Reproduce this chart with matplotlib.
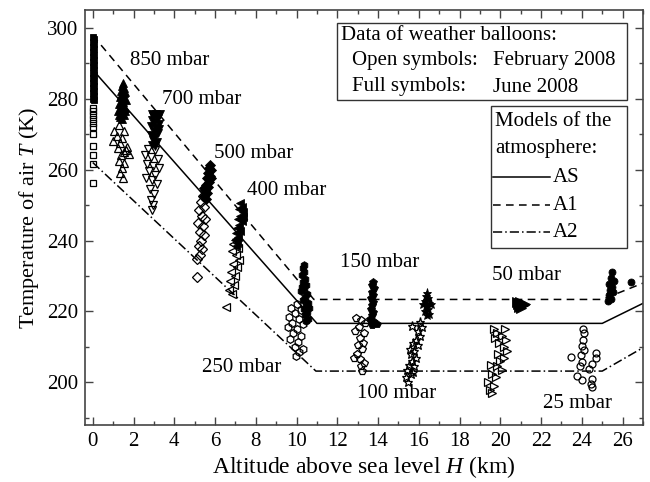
import matplotlib
matplotlib.use("Agg")
import matplotlib.pyplot as plt
from matplotlib.patches import Rectangle
from matplotlib.lines import Line2D
from matplotlib.ticker import MultipleLocator

plt.rcParams['font.family'] = ['Liberation Serif', 'DejaVu Serif']
plt.rcParams['mathtext.fontset'] = 'custom'
plt.rcParams['mathtext.rm'] = 'Liberation Serif'
plt.rcParams['mathtext.it'] = 'Liberation Serif:italic'

# ---- model atmospheres: altitude (km) vs temperature (K) ----
h_as = [0.0, 11.0, 25.0, 27.0]
t_as = [288.15, 216.65, 216.65, 222.3]
h_a1 = [0.0, 10.85, 25.0, 27.0]
t_a1 = [297.9, 223.4, 223.4, 228.0]
h_a2 = [0.0, 10.95, 25.0, 27.0]
t_a2 = [262.0, 203.2, 203.2, 209.8]

# ---- radiosonde data, February 2008 (open) and June 2008 (full) ----
# surface
h_jun_sfc = [0.02, 0.08, 0.02, 0.08, 0.02, 0.08, 0.02, 0.08, 0.02, 0.08, 0.02, 0.08, 0.02,
             0.08, 0.02, 0.08, 0.02, 0.08, 0.02, 0.08, 0.02, 0.08, 0.02, 0.08, 0.02, 0.08]
t_jun_sfc = [297.5, 296.8, 296.0, 295.3, 294.6, 293.9, 293.1, 292.4, 291.7, 291.0, 290.2, 289.5, 288.8,
             288.0, 287.3, 286.6, 285.8, 285.1, 284.4, 283.7, 282.9, 282.2, 281.5, 280.8, 280.0, 279.6]
h_feb_sfc = [0.03, 0.03, 0.03, 0.03, 0.03, 0.03, 0.03, 0.03, 0.03, 0.03, 0.03]
t_feb_sfc = [277.5, 276.4, 275.3, 274.2, 273.1, 272.1, 270.1, 266.6, 264.0, 261.7, 256.2]

# 850 mbar
h_jun_850 = [1.50, 1.45, 1.55, 1.40, 1.60, 1.45, 1.35, 1.55, 1.65, 1.40, 1.30, 1.50, 1.60, 1.35,
             1.25, 1.45, 1.55, 1.35, 1.45, 1.30, 1.60, 1.50, 1.40, 1.55]
t_jun_850 = [284.3, 283.5, 283.0, 282.3, 282.0, 281.2, 280.5, 280.3, 279.6, 279.2, 278.6, 278.2, 277.5, 277.0,
             276.4, 276.0, 275.3, 274.8, 274.2, 275.5, 276.6, 279.0, 280.8, 281.5]
h_feb_850 = [1.30, 1.05, 1.55, 1.20, 1.45, 1.00, 1.35, 1.70, 1.25, 1.55, 1.80, 1.40, 1.30, 1.55,
             1.45, 1.35, 1.50, 1.65]
t_feb_850 = [272.5, 271.0, 271.0, 269.5, 269.0, 268.0, 267.5, 266.5, 266.0, 265.0, 264.5, 264.0, 262.5, 262.0,
             260.5, 259.0, 257.5, 265.5]

# 700 mbar
h_jun_700 = [3.30, 3.10, 2.95, 3.20, 2.90, 3.05, 3.25, 2.85, 3.10, 3.00, 3.20, 2.85, 3.05, 2.95,
             3.15, 2.90, 3.05, 3.25, 2.90]
t_jun_700 = [275.8, 275.6, 275.2, 274.6, 274.0, 273.4, 273.0, 272.4, 271.8, 271.0, 270.4, 269.8, 269.2, 268.4,
             267.8, 267.0, 266.6, 271.5, 275.8]
h_feb_700 = [2.70, 3.05, 2.55, 2.85, 3.20, 2.65, 2.95, 3.25, 2.75, 3.05, 2.60, 2.90, 3.15, 2.80,
             3.00, 2.85, 2.95, 2.90]
t_feb_700 = [265.8, 265.5, 264.0, 263.5, 263.0, 261.5, 261.0, 260.5, 259.5, 258.5, 257.5, 257.0, 256.0, 254.5,
             253.0, 251.5, 250.0, 248.7]

# 500 mbar
h_jun_500 = [5.75, 5.70, 5.80, 5.65, 5.75, 5.60, 5.70, 5.55, 5.65, 5.50, 5.60, 5.45, 5.55, 5.80, 5.45]
t_jun_500 = [261.2, 260.4, 259.8, 259.0, 258.2, 257.5, 256.6, 255.8, 255.0, 254.2, 253.4, 252.6, 251.8,
             257.5, 254.8]
h_feb_500 = [5.40, 5.30, 5.45, 5.20, 5.35, 5.50, 5.15, 5.40, 5.25, 5.45, 5.30, 5.20, 5.35, 5.25,
             5.10, 5.10]
t_feb_500 = [252.5, 251.0, 249.5, 248.5, 247.0, 246.0, 245.0, 244.0, 242.5, 241.5, 240.0, 238.5, 237.5, 236.0,
             234.8, 229.7]

# 400 mbar
h_jun_400 = [7.25, 7.30, 7.20, 7.35, 7.25, 7.15, 7.30, 7.20, 7.10, 7.25, 7.05, 7.15, 7.00, 7.10,
             7.05, 7.35]
t_jun_400 = [250.5, 249.6, 248.8, 248.0, 247.0, 246.2, 245.4, 244.5, 243.6, 242.8, 242.0, 241.0, 240.2, 239.2,
             238.4, 246.5]
h_feb_400 = [7.05, 6.90, 7.15, 6.85, 7.05, 7.20, 6.90, 7.10, 6.80, 7.00, 6.75, 6.95, 6.70, 6.85, 6.55]
t_feb_400 = [240.5, 239.0, 238.0, 237.0, 236.0, 234.5, 233.5, 232.5, 231.0, 230.0, 228.5, 227.5, 226.0, 225.0,
             221.3]

# 250 mbar
h_jun_250 = [10.35, 10.30, 10.35, 10.25, 10.40, 10.30, 10.45, 10.35, 10.20, 10.50, 10.40, 10.30, 10.55,
             10.45, 10.35, 10.50, 10.40, 10.55, 10.45, 10.60, 10.25]
t_jun_250 = [233.2, 232.2, 231.2, 230.2, 229.3, 228.4, 227.5, 226.6, 225.8, 225.0, 224.0, 223.2, 222.4,
             221.5, 220.6, 219.8, 218.9, 218.0, 217.2, 221.0, 227.0]
h_feb_250 = [10.00, 9.75, 10.20, 9.90, 9.65, 10.10, 9.80, 10.30, 9.60, 10.00, 9.85, 10.20, 9.70,
             10.05, 9.90, 10.30, 10.10, 9.95]
t_feb_250 = [222.0, 221.0, 220.5, 219.5, 218.5, 218.0, 216.8, 216.5, 215.5, 215.0, 213.8, 213.0, 212.3,
             211.5, 210.0, 209.5, 208.5, 207.5]

# 150 mbar
h_jun_150 = [13.75, 13.70, 13.80, 13.70, 13.75, 13.65, 13.75, 13.70, 13.65, 13.75, 13.70, 13.60,
             13.75, 13.95, 13.70]
t_jun_150 = [228.4, 227.4, 226.5, 225.5, 224.6, 223.7, 222.8, 221.8, 220.8, 219.9, 219.0, 218.0,
             217.2, 216.5, 216.2]
h_feb_150 = [12.90, 13.15, 13.35, 13.05, 13.30, 13.10, 13.25, 13.20, 12.95, 12.80, 13.10, 13.30,
             13.15, 13.20, 12.85, 13.00]
t_feb_150 = [218.3, 217.5, 216.8, 215.5, 214.0, 212.5, 211.0, 209.5, 208.0, 207.0, 206.5, 205.5,
             204.5, 203.3, 214.5, 210.5]

# 100 mbar
h_jun_100 = [16.40, 16.35, 16.45, 16.30, 16.50, 16.35, 16.45, 16.30, 16.50, 16.40, 16.20, 16.60]
t_jun_100 = [225.3, 224.5, 223.8, 223.0, 222.4, 221.6, 220.8, 220.0, 219.4, 219.0, 222.0, 222.0]
h_feb_100 = [16.05, 15.65, 16.15, 15.95, 16.05, 15.85, 15.70, 15.95, 15.75, 15.60, 15.85, 15.65,
             15.50, 15.75, 15.40, 15.60, 15.35, 15.45, 15.70, 15.55]
t_feb_100 = [217.0, 216.0, 215.5, 214.5, 213.0, 212.0, 211.0, 210.5, 209.0, 208.0, 207.0, 206.0,
             205.0, 204.5, 203.5, 202.5, 201.5, 200.0, 203.0, 209.5]

# 50 mbar
h_jun_50 = [20.85, 20.95, 20.90, 21.05, 21.00, 21.15, 20.80, 21.20, 21.10]
t_jun_50 = [222.0, 222.6, 221.3, 222.2, 221.0, 221.8, 222.8, 222.0, 221.9]
h_feb_50 = [19.70, 20.25, 19.85, 20.10, 19.75, 20.30, 19.95, 20.20, 20.35, 19.90, 20.20, 20.00,
            19.55, 19.85, 20.10, 19.60, 19.80, 19.40, 19.70, 19.50, 19.60]
t_feb_50 = [215.2, 215.0, 214.0, 213.0, 212.5, 212.0, 211.0, 210.0, 209.0, 208.0, 207.0, 206.0,
            205.0, 204.5, 203.5, 202.5, 201.5, 200.0, 199.0, 198.0, 197.0]

# 25 mbar
h_jun_25 = [25.50, 25.45, 25.60, 25.35, 25.50, 25.40, 25.55, 25.35, 25.45, 25.30, 26.40]
t_jun_25 = [231.2, 229.5, 228.5, 227.8, 227.0, 226.0, 225.5, 224.6, 223.6, 222.9, 228.2]
h_feb_25 = [24.06, 24.11, 24.06, 24.02, 24.11, 23.95, 24.68, 23.45, 24.68, 24.02, 24.52, 23.91,
            24.35, 23.78, 24.02, 24.52, 24.44, 24.52]
t_feb_25 = [215.2, 213.8, 211.9, 210.2, 209.1, 207.7, 208.2, 207.2, 207.0, 205.8, 205.2, 204.6,
            203.9, 201.8, 200.6, 201.1, 199.5, 198.8]

# pressure-level labels
level_names = ["850 mbar", "700 mbar", "500 mbar", "400 mbar", "250 mbar",
               "150 mbar", "100 mbar", "50 mbar", "25 mbar"]
level_label_h = [1.83, 3.39, 5.93, 7.57, 5.36, 12.15, 12.99, 19.60, 22.11]
level_label_t = [290.8, 279.8, 264.6, 254.2, 204.3, 233.9, 197.0, 230.2, 194.2]

W, H = 650, 482
fig = plt.figure(figsize=(W / 100, H / 100), dpi=100)
ax = fig.add_axes([85 / W, 1 - 425 / H, (643 - 85) / W, (425 - 10) / H])

FS = 15

# model lines
ax.plot(h_as, t_as, color='black', lw=1.1, zorder=2)
ax.plot(h_a1, t_a1, color='black', lw=1.1, linestyle=(0, (5, 3.5)), zorder=2)
ax.plot(h_a2, t_a2, color='black', lw=1.1, linestyle=(0, (6, 2, 1, 2)), zorder=2)

# balloon data
sets = [
    (h_feb_sfc, t_feb_sfc, h_jun_sfc, t_jun_sfc, 's', 3.8, 5.0),
    (h_feb_850, t_feb_850, h_jun_850, t_jun_850, '^', 6.0, 5.5),
    (h_feb_700, t_feb_700, h_jun_700, t_jun_700, 'v', 6.0, 5.5),
    (h_feb_500, t_feb_500, h_jun_500, t_jun_500, 'D', 5.0, 5.0),
    (h_feb_400, t_feb_400, h_jun_400, t_jun_400, '<', 6.0, 5.5),
    (h_feb_250, t_feb_250, h_jun_250, t_jun_250, 'h', 5.5, 5.5),
    (h_feb_150, t_feb_150, h_jun_150, t_jun_150, 'p', 5.5, 5.5),
    (h_feb_100, t_feb_100, h_jun_100, t_jun_100, '*', 6.5, 6.5),
    (h_feb_50, t_feb_50, h_jun_50, t_jun_50, '>', 6.0, 7.0),
    (h_feb_25, t_feb_25, h_jun_25, t_jun_25, 'o', 5.0, 5.0),
]
for hf, tf, hj, tj, mk, ms_open, ms_full in sets:
    ax.plot(hf, tf, linestyle='none', marker=mk, ms=ms_open, mfc='none',
            mec='black', mew=0.9, zorder=3)
    ax.plot(hj, tj, linestyle='none', marker=mk, ms=ms_full, mfc='black',
            mec='black', mew=0.6, zorder=3)

for name, lx, ly in zip(level_names, level_label_h, level_label_t):
    ax.text(lx, ly, name, fontsize=FS, ha='left', va='center', zorder=4)

ax.set_xlim(-0.38, 27.0)
ax.set_ylim(188, 305)
ax.xaxis.set_major_locator(MultipleLocator(2))
ax.xaxis.set_minor_locator(MultipleLocator(1))
ax.yaxis.set_major_locator(MultipleLocator(20))
ax.yaxis.set_minor_locator(MultipleLocator(10))
ax.tick_params(which='both', direction='in', top=True, right=True,
               color='#444444', width=1.0, labelsize=FS, labelcolor='black')
ax.tick_params(which='major', length=6, pad=5)
ax.tick_params(which='minor', length=3)
for sp in ax.spines.values():
    sp.set_color('#444444')
    sp.set_linewidth(1.2)

ax.set_xlabel('Altitude above sea level $H$ (km)', fontsize=17, labelpad=2)
ax.set_ylabel('Temperature of air $T$ (K)', fontsize=16, labelpad=4)

# information boxes (figure pixel layout)
def fx(px):
    return px / W

def fy(py):
    return 1 - py / H

fig.patches.append(Rectangle((fx(337), fy(100)), fx(627) - fx(337), fy(23) - fy(100),
                             transform=fig.transFigure, fill=False, ec='#333333', lw=1.0))
fig.text(fx(341), fy(36), 'Data of weather balloons:', fontsize=FS, va='center')
fig.text(fx(352), fy(61), 'Open symbols:', fontsize=FS, va='center')
fig.text(fx(493), fy(61), 'February 2008', fontsize=FS, va='center')
fig.text(fx(352), fy(87), 'Full symbols:', fontsize=FS, va='center')
fig.text(fx(493), fy(87), 'June 2008', fontsize=FS, va='center')

fig.patches.append(Rectangle((fx(491), fy(248)), fx(627) - fx(491), fy(106) - fy(248),
                             transform=fig.transFigure, fill=False, ec='#333333', lw=1.0))
fig.text(fx(495), fy(122), 'Models of the', fontsize=FS, va='center')
fig.text(fx(495), fy(149), 'atmosphere:', fontsize=FS, va='center')
for lab, ls, py in [('AS', '-', 177), ('A1', (0, (5, 3.5)), 205), ('A2', (0, (6, 2, 1, 2)), 232)]:
    fig.lines.append(Line2D([fx(493), fx(550)], [fy(py), fy(py)], transform=fig.transFigure,
                            color='black', lw=1.1, linestyle=ls))
    fig.text(fx(553), fy(py), lab, fontsize=FS, va='center')

fig.savefig('out.png', dpi=100)
